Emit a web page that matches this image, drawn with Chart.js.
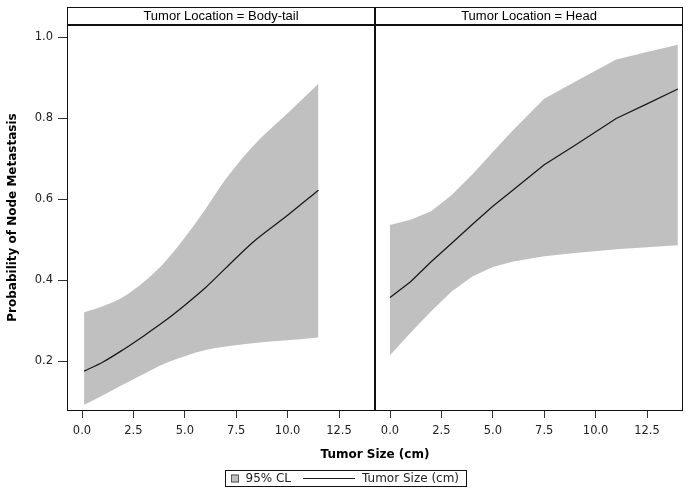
<!DOCTYPE html>
<html>
<head>
<meta charset="utf-8">
<script src="https://cdn.jsdelivr.net/npm/chart.js@4.4.1/dist/chart.umd.min.js"></script>
<style>
  html, body { margin: 0; padding: 0; background: #fff; }
  canvas { display: block; }
</style>
</head>
<body>
<canvas id="c" width="691" height="495"></canvas>
<script>
// ---- data ----
const panelTitles = ['Tumor Location = Body-tail', 'Tumor Location = Head'];
const xTickValues = [0, 2.5, 5, 7.5, 10, 12.5];
const yTickValues = [0.2, 0.4, 0.6, 0.8, 1.0];

// Body-tail panel
const bodyX     = [0.1, 1, 2, 3, 4, 5, 6, 7, 8.3, 10, 11.5];
const bodyFit   = [0.175, 0.197, 0.228, 0.262, 0.298, 0.338, 0.381, 0.430, 0.493, 0.560, 0.622];
const bodyLower = [0.092, 0.115, 0.142, 0.168, 0.193, 0.212, 0.227, 0.236, 0.244, 0.251, 0.258];
const bodyUpper = [0.320, 0.335, 0.358, 0.395, 0.443, 0.505, 0.575, 0.650, 0.730, 0.812, 0.885];

// Head panel
const headX     = [0, 1, 2, 3, 4, 5, 6, 7.5, 9, 11, 12.5, 14];
const headFit   = [0.357, 0.396, 0.445, 0.491, 0.537, 0.582, 0.623, 0.685, 0.733, 0.799, 0.835, 0.872];
const headLower = [0.214, 0.270, 0.323, 0.372, 0.409, 0.432, 0.446, 0.459, 0.467, 0.476, 0.481, 0.486];
const headUpper = [0.536, 0.549, 0.570, 0.610, 0.661, 0.716, 0.771, 0.848, 0.890, 0.945, 0.963, 0.981];

const bandLabel = '95% CL';
const fitLabel = 'Tumor Size (cm)';
const xTitle = 'Tumor Size (cm)';
const yTitle = 'Probability of Node Metastasis';

// ---- styling ----
const BAND = '#c0c0c0';
const LINE = '#1a1a1a';
const FRAME = '#111';
const TICKFONT = { family: 'DejaVu Sans', size: 11.5 };
const LEGENDFONT = { family: 'DejaVu Sans', size: 12 };
const TITLEFONT = { family: 'DejaVu Sans', size: 12, weight: 'bold' };

const pts = (xs, ys) => xs.map((x, i) => ({ x: x, y: ys[i] }));

function bandDatasets(axis, xs, lo, hi, fit, withLegend, smooth) {
  const common = { xAxisID: axis, yAxisID: 'y', pointRadius: 0, pointHoverRadius: 0,
                   tension: 0, cubicInterpolationMode: smooth ? 'monotone' : 'default' };
  return [
    Object.assign({}, common, { label: bandLabel + ' lower', data: pts(xs, lo), borderWidth: 0,
      borderColor: 'rgba(0,0,0,0)', backgroundColor: BAND, fill: false, order: 2 }),
    Object.assign({}, common, { label: bandLabel, data: pts(xs, hi), borderWidth: 0,
      borderColor: 'rgba(0,0,0,0)', backgroundColor: BAND, fill: '-1', order: 2,
      legendKind: withLegend ? 'box' : null }),
    Object.assign({}, common, { label: fitLabel, data: pts(xs, fit), borderWidth: 1.3,
      borderColor: LINE, backgroundColor: LINE, fill: false, order: 0,
      legendKind: withLegend ? 'line' : null })
  ];
}

const datasets = []
  .concat(bandDatasets('x1', bodyX, bodyLower, bodyUpper, bodyFit, true, true))
  .concat(bandDatasets('x2', headX, headLower, headUpper, headFit, false, false));

const X_MIN = -0.73, X_MAX = 14.25;

function bottomAxis() {
  return {
    type: 'linear', position: 'bottom', stack: 'xb', stackWeight: 1,
    min: X_MIN, max: X_MAX,
    afterBuildTicks: s => { s.ticks = xTickValues.map(v => ({ value: v })); },
    afterFit: s => { s.height = 31; },
    ticks: { font: TICKFONT, color: '#222', padding: 6, maxRotation: 0, autoSkip: false,
             callback: v => Number(v).toFixed(1) },
    grid: { display: true, drawOnChartArea: false, drawTicks: true, tickLength: 8,
            color: '#333', lineWidth: 1 },
    border: { display: false }
  };
}
function topAxis(text) {
  return {
    type: 'linear', position: 'top', stack: 'xt', stackWeight: 1,
    min: X_MIN, max: X_MAX,
    afterFit: s => { s.height = 18; },
    ticks: { display: false },
    grid: { display: false },
    border: { display: false },
    title: { display: true, text: text, color: '#000',
             font: { family: 'Liberation Sans', size: 13 }, padding: { top: 1.7, bottom: 0 } }
  };
}

const framePlugin = {
  id: 'frames',
  afterDraw(chart) {
    const ctx = chart.ctx, ca = chart.chartArea;
    ctx.save();
    ctx.strokeStyle = FRAME;
    ['x1', 'x2'].forEach(id => {
      const s = chart.scales[id], h = chart.scales[id + 't'];
      ctx.lineWidth = 1;
      ctx.strokeRect(s.left + 0.5, h.top + 0.5, s.right - s.left - 1, ca.bottom - h.top);
      ctx.lineWidth = 2;
      ctx.beginPath();
      ctx.moveTo(s.left, ca.top);
      ctx.lineTo(s.right, ca.top);
      ctx.stroke();
    });
    ctx.restore();
  }
};

const legendPlugin = {
  id: 'boxLegend',
  afterDraw(chart) {
    const ctx = chart.ctx;
    const items = chart.data.datasets.filter(d => d.legendKind);
    ctx.save();
    ctx.font = LEGENDFONT.size + 'px "' + LEGENDFONT.family + '"';
    const padL = 6, padR = 7, sw = 8, gapSw = 6.5, gapItem = 12, lineLen = 52, gapLine = 7;
    let total = padL + padR;
    items.forEach((d, i) => {
      const tw = ctx.measureText(d.label).width;
      total += (d.legendKind === 'box' ? sw + gapSw : lineLen + gapLine) + tw;
      if (i > 0) total += gapItem;
    });
    total = Math.round(total);
    const left = Math.round((chart.width - total) / 2);
    const top = chart.height - 25, hgt = 16, cy = top + hgt / 2 + 0.5;
    ctx.strokeStyle = FRAME; ctx.lineWidth = 1;
    ctx.strokeRect(left + 0.5, top + 0.5, total, hgt);
    let x = left + padL;
    ctx.textBaseline = 'middle'; ctx.textAlign = 'left'; ctx.fillStyle = '#222';
    items.forEach((d, i) => {
      if (i > 0) x += gapItem;
      if (d.legendKind === 'box') {
        ctx.fillStyle = d.backgroundColor;
        ctx.fillRect(x, cy - sw / 2, sw, sw);
        ctx.strokeStyle = '#555';
        ctx.strokeRect(x + 0.5, cy - sw / 2 + 0.5, sw - 1, sw - 1);
        x += sw + gapSw;
      } else {
        ctx.strokeStyle = d.borderColor; ctx.lineWidth = 1;
        ctx.beginPath(); ctx.moveTo(x, Math.floor(cy) + 0.5); ctx.lineTo(x + lineLen, Math.floor(cy) + 0.5); ctx.stroke();
        x += lineLen + gapLine;
      }
      ctx.fillStyle = '#222';
      ctx.fillText(d.label, x, cy);
      x += ctx.measureText(d.label).width;
    });
    ctx.restore();
  }
};

new Chart(document.getElementById('c'), {
  type: 'line',
  data: { datasets: datasets },
  options: {
    responsive: false,
    animation: false,
    devicePixelRatio: 1,
    layout: { padding: { top: 7, left: 0, right: 8, bottom: 32.8 } },
    plugins: {
      legend: { display: false },
      tooltip: { enabled: false },
      filler: { drawTime: 'beforeDatasetsDraw' },
      title: {
        display: true, text: xTitle, position: 'bottom', fullSize: false, color: '#000',
        font: TITLEFONT,
        padding: { top: 6.8, bottom: 0 }
      }
    },
    scales: {
      // top header strips are laid out right-to-left, so the Head strip is declared first
      x2t: topAxis(panelTitles[1]),
      x1t: topAxis(panelTitles[0]),
      x1: bottomAxis(),
      x2: bottomAxis(),
      y: {
        type: 'linear', position: 'left', min: 0.079, max: 1.03,
        afterBuildTicks: s => { s.ticks = yTickValues.map(v => ({ value: v })); },
        afterFit: s => { s.width = 67; },
        ticks: { font: TICKFONT, color: '#222', padding: 5, callback: v => Number(v).toFixed(1) },
        grid: { display: true, drawOnChartArea: false, drawTicks: true, tickLength: 9,
                color: '#333', lineWidth: 1 },
        border: { display: false },
        title: { display: true, text: yTitle, color: '#000',
                 font: TITLEFONT,
                 padding: { top: 6, bottom: 0 } }
      }
    }
  },
  plugins: [framePlugin, legendPlugin]
});
</script>
</body>
</html>
